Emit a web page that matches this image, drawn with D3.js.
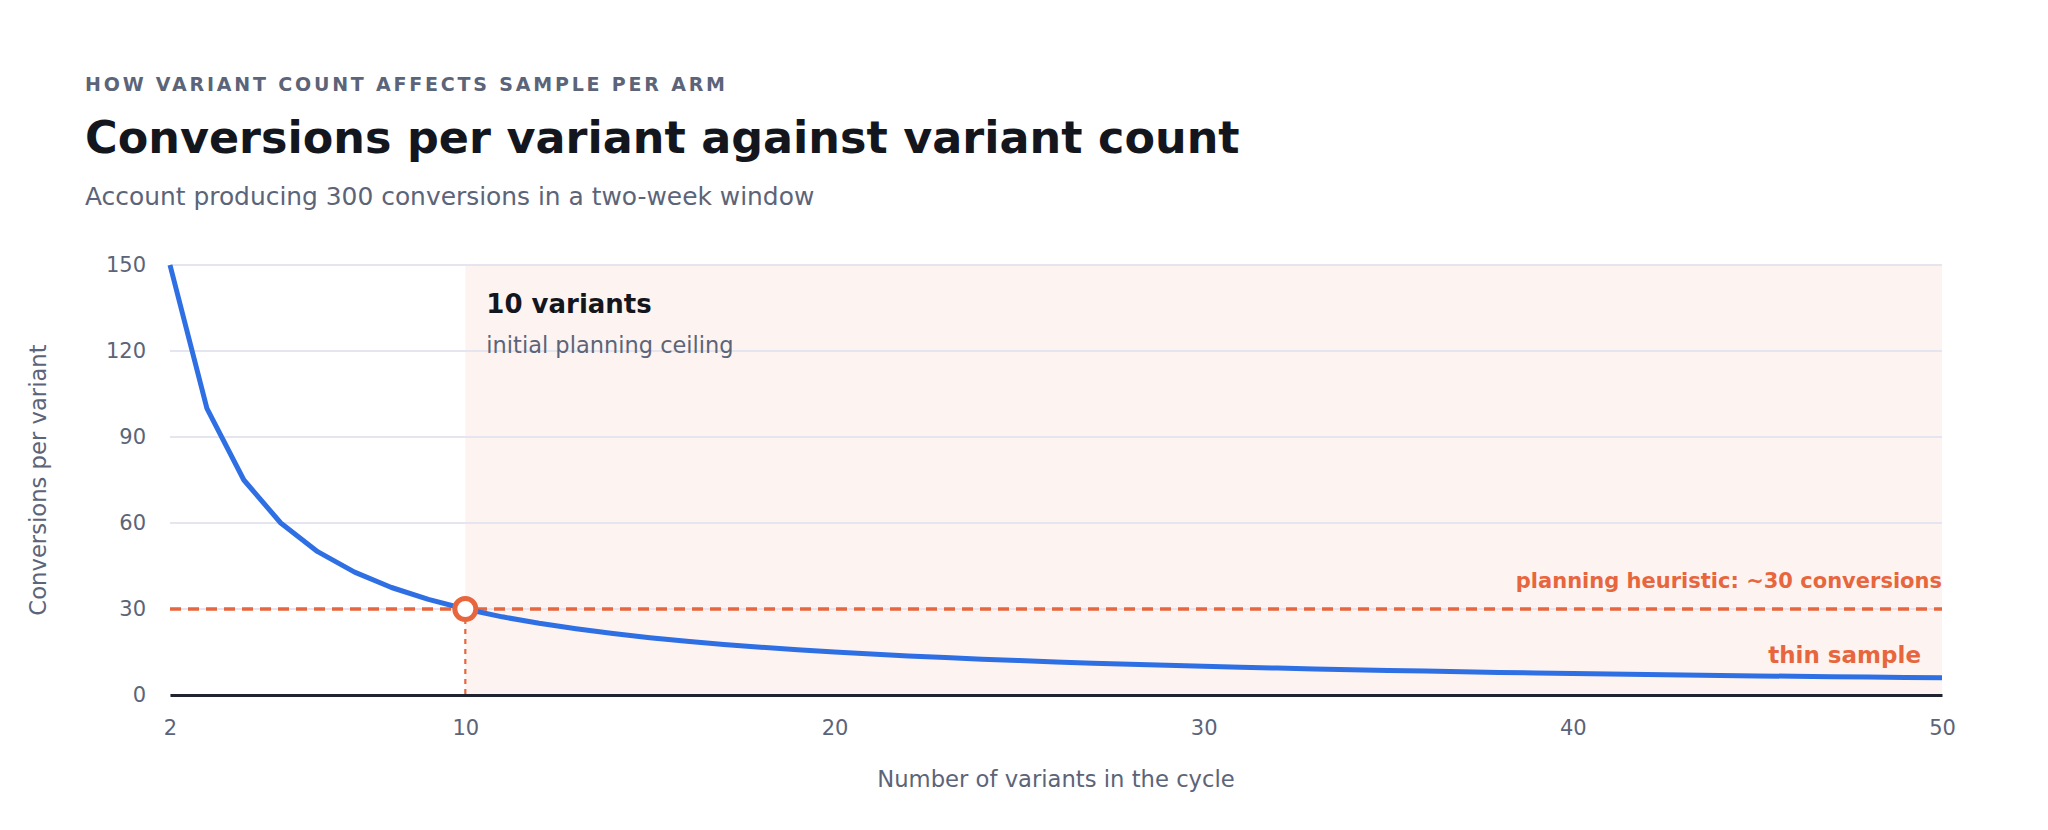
<!DOCTYPE html>
<html>
<head>
<meta charset="utf-8">
<script src="https://cdn.jsdelivr.net/npm/d3@7/dist/d3.min.js"></script>
<style>
  html, body { margin: 0; padding: 0; background: #fff; }
  svg { display: block; font-family: "DejaVu Sans", sans-serif; }
</style>
</head>
<body>
<div id="chart"></div>
<script>
'use strict';
// variant counts in the cycle and conversions each arm gets (300 total)
const variants = [2, 3, 4, 5, 6, 7, 8, 9, 10, 11, 12, 13, 14, 15, 16, 17, 18, 19, 20,
  21, 22, 23, 24, 25, 26, 27, 28, 29, 30, 31, 32, 33, 34, 35, 36, 37, 38, 39, 40,
  41, 42, 43, 44, 45, 46, 47, 48, 49, 50];
const perVariant = [150, 100, 75, 60, 50, 42.86, 37.5, 33.33, 30, 27.27, 25, 23.08, 21.43, 20,
  18.75, 17.65, 16.67, 15.79, 15, 14.29, 13.64, 13.04, 12.5, 12, 11.54, 11.11, 10.71, 10.34,
  10, 9.68, 9.38, 9.09, 8.82, 8.57, 8.33, 8.11, 7.89, 7.69, 7.5, 7.32, 7.14, 6.98, 6.82,
  6.67, 6.52, 6.38, 6.25, 6.12, 6];
const xTicks = [2, 10, 20, 30, 40, 50];
const yTicks = [0, 30, 60, 90, 120, 150];
const ceiling = 10;
const heuristic = 30;

((d3) => {
  const width = 2048, height = 830;
  const margin = { top: 265, right: 106, bottom: 135, left: 170 };
  const innerW = width - margin.left - margin.right;
  const innerH = height - margin.top - margin.bottom;
  const orange = '#e8663d';
  const muted = '#5b6478';

  const svg = d3.select('#chart').append('svg')
    .attr('width', width).attr('height', height);

  // header
  svg.append('text').attr('x', 85).attr('y', 91)
    .attr('font-size', 19).attr('font-weight', 700).attr('letter-spacing', 2.8)
    .attr('fill', muted).text('HOW VARIANT COUNT AFFECTS SAMPLE PER ARM');
  svg.append('text').attr('x', 85).attr('y', 153)
    .attr('font-size', 44.5).attr('font-weight', 700).attr('fill', '#14161d')
    .text('Conversions per variant against variant count');
  svg.append('text').attr('x', 85).attr('y', 205)
    .attr('font-size', 24.9).attr('fill', muted)
    .text('Account producing 300 conversions in a two-week window');

  const g = svg.append('g').attr('transform', `translate(${margin.left},${margin.top})`);

  const x = d3.scaleLinear().domain([2, 50]).range([0, innerW]);
  const y = d3.scaleLinear().domain([0, 150]).range([innerH, 0]);

  // shaded zone beyond the planning ceiling
  g.append('rect')
    .attr('x', x(ceiling)).attr('y', y(150))
    .attr('width', x(50) - x(ceiling)).attr('height', y(0) - y(150))
    .attr('fill', '#fdf4f2');

  // gridlines
  g.append('g').selectAll('line').data(yTicks).enter()
    .append('line')
    .attr('x1', 0).attr('x2', innerW)
    .attr('y1', d => y(d)).attr('y2', d => y(d))
    .attr('stroke', '#e4e5ee').attr('stroke-width', 2);

  // y axis labels
  const yAxis = g.append('g').call(d3.axisLeft(y).tickValues(yTicks).tickSize(0).tickPadding(24));
  yAxis.select('.domain').remove();
  yAxis.selectAll('text').attr('font-size', 21).attr('fill', muted)
    .attr('font-family', '"DejaVu Sans", sans-serif');

  // x axis
  const xAxis = g.append('g').attr('transform', `translate(0,${innerH})`)
    .call(d3.axisBottom(x).tickValues(xTicks).tickSize(0).tickPadding(25));
  xAxis.select('.domain').attr('stroke', '#1f2430').attr('stroke-width', 3);
  xAxis.selectAll('text').attr('font-size', 21).attr('fill', muted)
    .attr('font-family', '"DejaVu Sans", sans-serif');

  // axis titles
  svg.append('text').attr('x', margin.left + innerW / 2).attr('y', 787)
    .attr('text-anchor', 'middle').attr('font-size', 22.7).attr('fill', muted)
    .text('Number of variants in the cycle');
  svg.append('text')
    .attr('transform', `translate(46,${margin.top + innerH / 2}) rotate(-90)`)
    .attr('text-anchor', 'middle').attr('font-size', 22.7).attr('fill', muted)
    .text('Conversions per variant');

  // heuristic line
  g.append('line')
    .attr('x1', x(2)).attr('x2', x(50))
    .attr('y1', y(heuristic)).attr('y2', y(heuristic))
    .attr('stroke', orange).attr('stroke-width', 3.5).attr('stroke-dasharray', '11,7');
  g.append('text').attr('x', x(50)).attr('y', y(heuristic) - 21)
    .attr('text-anchor', 'end').attr('font-size', 21).attr('font-weight', 700)
    .attr('fill', orange).text('planning heuristic: ~30 conversions');

  // ceiling drop line
  g.append('line')
    .attr('x1', x(ceiling)).attr('x2', x(ceiling))
    .attr('y1', y(heuristic)).attr('y2', y(0))
    .attr('stroke', orange).attr('stroke-width', 2.2).attr('stroke-dasharray', '5,5');

  // curve
  const line = d3.line().x((d, i) => x(variants[i])).y(d => y(d));
  g.append('path').datum(perVariant)
    .attr('d', line).attr('fill', 'none')
    .attr('stroke', '#2f6fe4').attr('stroke-width', 5).attr('stroke-linejoin', 'round');

  // ceiling marker
  g.append('circle')
    .attr('cx', x(ceiling)).attr('cy', y(heuristic)).attr('r', 10.5)
    .attr('fill', '#fff').attr('stroke', orange).attr('stroke-width', 5);

  // annotations
  g.append('text').attr('x', x(ceiling) + 21).attr('y', y(150) + 48)
    .attr('font-size', 26).attr('font-weight', 700).attr('fill', '#14161d')
    .text('10 variants');
  g.append('text').attr('x', x(ceiling) + 21).attr('y', y(150) + 88)
    .attr('font-size', 22.5).attr('fill', muted)
    .text('initial planning ceiling');
  g.append('text').attr('x', x(50) - 21).attr('y', y(0) - 32)
    .attr('text-anchor', 'end').attr('font-size', 23).attr('font-weight', 700)
    .attr('fill', orange).text('thin sample');
})(window.d3);
</script>
</body>
</html>
